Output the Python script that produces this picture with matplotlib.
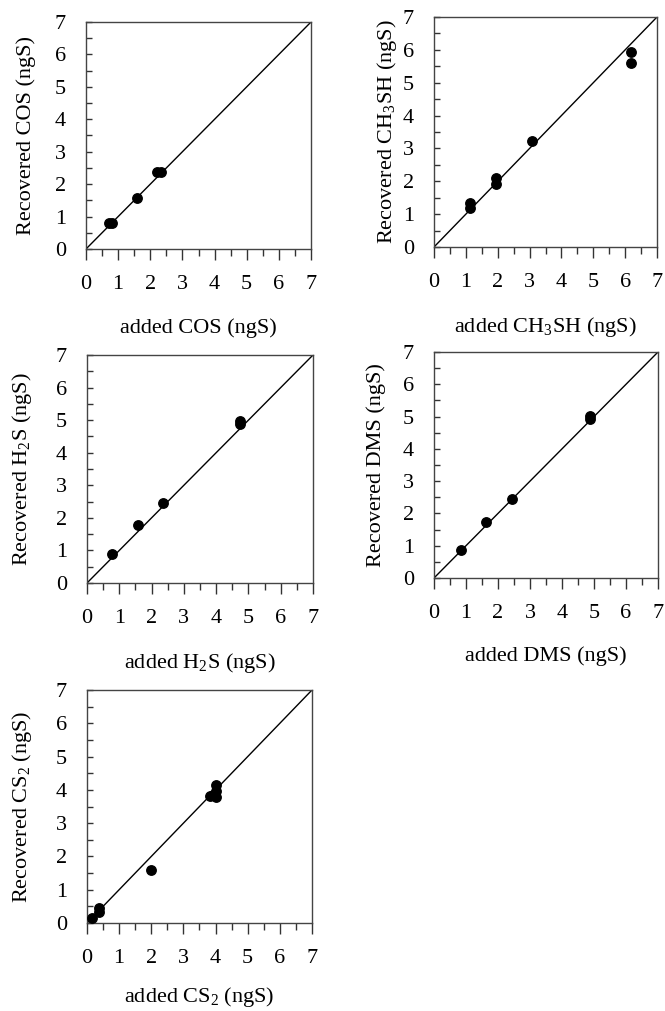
import matplotlib
matplotlib.use("Agg")
import matplotlib.pyplot as plt
from matplotlib.ticker import MultipleLocator
from matplotlib.transforms import blended_transform_factory

plt.rcParams['font.family'] = ['Liberation Serif', 'DejaVu Serif']
plt.rcParams['mathtext.fontset'] = 'custom'
plt.rcParams['mathtext.rm'] = 'Liberation Serif'
plt.rcParams['mathtext.it'] = 'Liberation Serif:italic'
plt.rcParams['mathtext.default'] = 'regular'

# data (ngS)
cos_added = [0.72, 0.80, 1.60, 2.20, 2.33]
cos_recov = [0.80, 0.80, 1.58, 2.37, 2.37]

ch3sh_added = [1.14, 1.14, 1.94, 1.94, 3.08, 6.17, 6.17]
ch3sh_recov = [1.34, 1.19, 2.11, 1.93, 3.24, 5.93, 5.60]

h2s_added = [0.78, 1.57, 2.36, 4.73, 4.73]
h2s_recov = [0.88, 1.78, 2.47, 4.97, 4.89]

dms_added = [0.83, 1.64, 2.44, 4.88, 4.88]
dms_recov = [0.88, 1.74, 2.44, 5.01, 4.91]

cs2_added = [0.17, 0.36, 0.36, 1.99, 3.82, 3.92, 4.00, 4.00, 4.00]
cs2_recov = [0.15, 0.44, 0.33, 1.59, 3.82, 3.86, 3.80, 3.96, 4.14]

compounds = ["COS", "CH$_3$SH", "H$_2$S", "DMS", "CS$_2$"]
added = [cos_added, ch3sh_added, h2s_added, dms_added, cs2_added]
recovered = [cos_recov, ch3sh_recov, h2s_recov, dms_recov, cs2_recov]

W, H = 665, 1011
fig = plt.figure(figsize=(W / 100, H / 100), dpi=100)

# axes boxes in pixels: left, right, top, bottom
boxes = [
    (86, 311, 22, 249),
    (434, 657, 17, 247),
    (87, 313, 355, 583),
    (434, 658, 352, 578),
    (87, 312, 690, 923),
]
ylab_x = [26, 387, 22, 376, 22]
xlab_y = [328, 327, 663, 656, 997]

for name, xs, ys, (l, r, t, b), yx, xy in zip(compounds, added, recovered,
                                               boxes, ylab_x, xlab_y):
    ax = fig.add_axes([l / W, 1 - b / H, (r - l) / W, (b - t) / H])
    ax.set_xlim(0, 7)
    ax.set_ylim(0, 7)
    ax.plot([0, 7], [0, 7], color='black', lw=1.0, zorder=2)
    ax.plot(xs, ys, 'o', color='black', ms=6.8, zorder=3)
    ax.xaxis.set_major_locator(MultipleLocator(1))
    ax.xaxis.set_minor_locator(MultipleLocator(0.5))
    ax.yaxis.set_major_locator(MultipleLocator(1))
    ax.yaxis.set_minor_locator(MultipleLocator(0.5))
    ax.tick_params(axis='x', which='major', direction='out', length=8, width=1.0,
                   pad=10.5, labelsize=16, color='#333333')
    ax.tick_params(axis='x', which='minor', direction='out', length=5, width=1.0,
                   color='#333333')
    ax.tick_params(axis='y', which='major', direction='in', length=4.5, width=1.0,
                   pad=14.5, labelsize=16, color='#333333')
    ax.tick_params(axis='y', which='minor', direction='in', length=4.5, width=1.0,
                   color='#333333')
    for s in ax.spines.values():
        s.set_linewidth(1.0)
        s.set_color('#444444')
    ax.set_xlabel(f"added {name} (ngS)", fontsize=16, va='center')
    ax.set_ylabel(f"Recovered {name} (ngS)", fontsize=16, va='center')
    ax.xaxis.set_label_coords(0.5, 1 - xy / H,
                              transform=blended_transform_factory(ax.transAxes, fig.transFigure))
    ax.yaxis.set_label_coords(yx / W, 0.5,
                              transform=blended_transform_factory(fig.transFigure, ax.transAxes))

fig.savefig("out.png", dpi=100)
